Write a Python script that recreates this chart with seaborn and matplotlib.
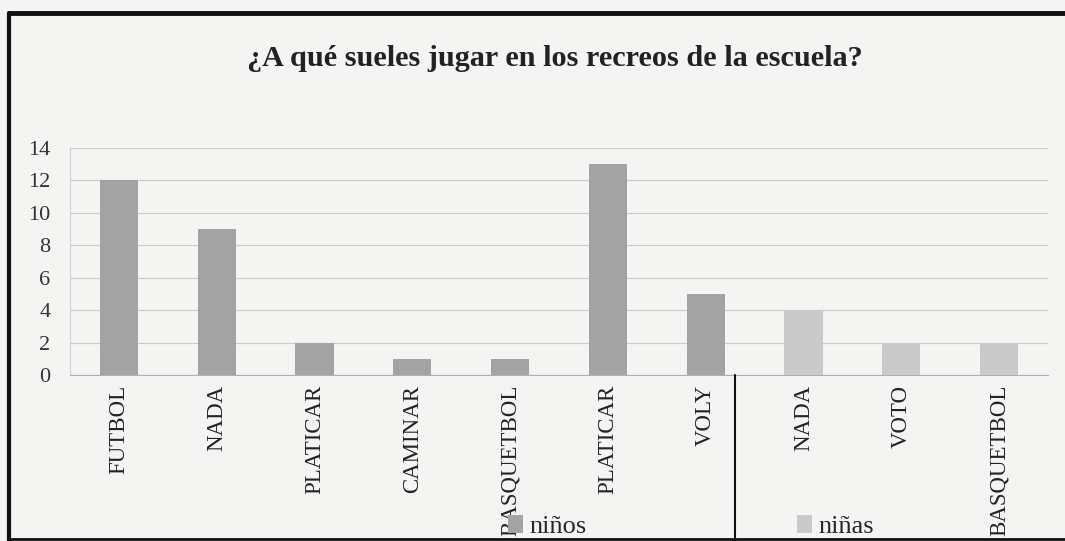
import matplotlib
matplotlib.use("Agg")
import matplotlib.pyplot as plt
import matplotlib.lines as mlines
import pandas as pd
import seaborn as sns

# datos
actividades = ["FUTBOL", "NADA", "PLATICAR", "CAMINAR", "BASQUETBOL",
               "PLATICAR", "VOLY", "NADA", "VOTO", "BASQUETBOL"]
grupo = ["niños"] * 7 + ["niñas"] * 3
respuestas = [12, 9, 2, 1, 1, 13, 5, 4, 2, 2]

sns.set_style("white")
plt.rcParams["font.family"] = ["Liberation Serif", "DejaVu Serif"]

df = pd.DataFrame({
    "pos": [str(i) for i in range(len(actividades))],
    "actividad": actividades,
    "grupo": grupo,
    "respuestas": respuestas,
})

bg = "#f4f4f2"
fig = plt.figure(figsize=(10.65, 5.41), dpi=100, facecolor=bg)
ax = fig.add_axes([70 / 1065, 1 - 375 / 541, (1048 - 70) / 1065, (375 - 148) / 541])
ax.set_facecolor(bg)

sns.barplot(data=df, x="pos", y="respuestas", hue="grupo", dodge=False,
            palette={"niños": "#a3a3a3", "niñas": "#cacaca"},
            width=0.39, ax=ax, zorder=3, legend=True, linewidth=0)

ax.set_ylim(0, 14)
ax.set_xlim(-0.5, len(actividades) - 0.5)
ax.set_yticks(range(0, 15, 2))
ax.set_xticks(range(len(actividades)))
ax.set_xticklabels(actividades, rotation=90, fontsize=16.5, color="#222222")
ax.set_xticks([i + 0.5 for i in range(-1, len(actividades))], minor=True)
ax.tick_params(axis="x", which="major", length=0, pad=7)
ax.tick_params(axis="x", which="minor", length=5, color="#aaaaaa", width=0.8)
ax.tick_params(axis="y", length=0, labelsize=16, labelcolor="#333333", pad=14)
ax.set_xlabel("")
ax.set_ylabel("")
ax.grid(axis="y", color="#b5b5b5", linewidth=0.9, linestyle=(0, (1, 0.6)), zorder=0)
for s in ["top", "right"]:
    ax.spines[s].set_visible(False)
ax.spines["left"].set_color("#d0d0d0")
ax.spines["bottom"].set_color("#b0b0b0")

handles, labels = ax.get_legend_handles_labels()
ax.get_legend().remove()
fig.legend(handles, labels, loc="lower left", bbox_to_anchor=(508 / 1065, 3 / 541),
           ncol=2, frameon=False, fontsize=19, handlelength=0.55, handleheight=0.7,
           handletextpad=0.25, columnspacing=8.0, borderpad=0, borderaxespad=0)

fig.text(555 / 1065, 1 - 66 / 541, "¿A qué sueles jugar en los recreos de la escuela?",
         ha="center", va="baseline", fontsize=21.8, fontweight="bold", color="#222222")

# marco del grafico escaneado
fig.add_artist(mlines.Line2D([9 / 1065, 1.0], [1 - 13 / 541] * 2, color="#111111", lw=3.5))
fig.add_artist(mlines.Line2D([9 / 1065] * 2, [0, 1 - 13 / 541], color="#111111", lw=3))
fig.add_artist(mlines.Line2D([9 / 1065, 1.0], [2 / 541] * 2, color="#111111", lw=2))
fig.add_artist(mlines.Line2D([735 / 1065] * 2, [0, 1 - 375 / 541], color="#111111", lw=1.5))

fig.savefig("out.png", dpi=100, facecolor=bg)
